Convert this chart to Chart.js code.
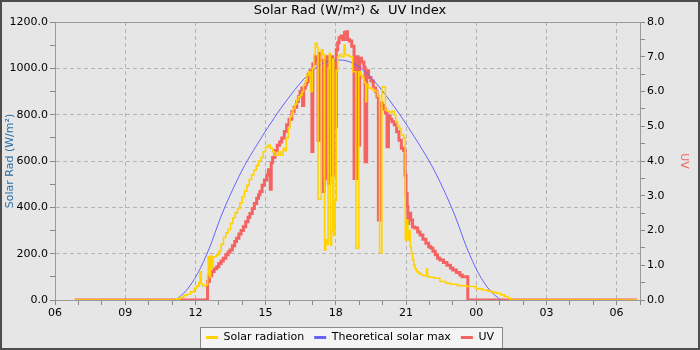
<!DOCTYPE html>
<html>
<head>
<meta charset="utf-8">
<script src="https://cdn.jsdelivr.net/npm/chart.js@4.4.1/dist/chart.umd.min.js"></script>
<style>
  html, body { margin: 0; padding: 0; background: #e6e6e6; }
  #wrap { width: 700px; height: 350px; }
</style>
</head>
<body>
<div id="wrap"><canvas id="solarChart" width="700" height="350"></canvas></div>
<script>
// Hours of the day (values above 24 are the next morning)
const solarTimes = [6.85, 11.05, 11.2, 11.35, 11.5, 11.65, 11.8, 11.95, 12.05, 12.15, 12.2, 12.25, 12.3, 12.45, 12.52, 12.55, 12.58, 12.62, 12.65, 12.7, 12.75, 12.9,
  13.0, 13.1, 13.2, 13.3, 13.4, 13.5, 13.6, 13.7, 13.8, 13.9, 14.0, 14.1, 14.2, 14.3, 14.4, 14.5, 14.6, 14.7, 14.8, 14.9,
  15.0, 15.1, 15.2, 15.3, 15.4, 15.55, 15.65, 15.75, 15.8, 15.88, 15.97, 16.04, 16.12, 16.18, 16.26, 16.33, 16.4, 16.5, 16.56, 16.62, 16.7, 16.76, 16.85, 16.92,
  17.0, 17.06, 17.12, 17.2, 17.24, 17.38, 17.45, 17.52, 17.57, 17.62, 17.67, 17.72, 17.77, 17.82, 17.87, 17.91, 17.97,
  18.02, 18.08, 18.15, 18.25, 18.35, 18.4, 18.5, 18.6, 18.72, 18.86, 18.98, 19.06, 19.12, 19.2, 19.25, 19.28, 19.32, 19.4, 19.5, 19.6, 19.7, 19.78, 19.87, 19.97,
  20.05, 20.12, 20.2, 20.3, 20.4, 20.5, 20.56, 20.64, 20.72, 20.8, 20.9, 20.97, 21.02, 21.08, 21.13, 21.18, 21.23, 21.28, 21.33, 21.38, 21.45, 21.55, 21.65, 21.75, 21.88, 21.92,
  22.0, 22.2, 22.45, 22.7, 22.9, 23.2, 23.6, 24.0, 24.25, 24.5, 24.7, 24.87, 25.05, 25.2, 25.35, 25.45, 30.87];
const solarValues = [0, 0, 5, 12, 20, 25, 35, 50, 60, 75, 122, 70, 62, 66, 110, 187, 120, 100, 190, 140, 187, 195,
  210, 240, 270, 290, 305, 330, 355, 376, 395, 420, 446, 470, 495, 520, 540, 560, 580, 600, 615, 640,
  660, 669, 655, 640, 625, 640, 625, 655, 645, 700, 742, 791, 810, 827, 845, 863, 877, 885, 899, 928, 945, 971, 985, 900,
  1000, 1060, 1108, 1090, 435, 1080, 1060, 216, 260, 240, 1000, 1065, 237, 300, 1040, 280, 430,
  990, 1050, 1060, 1050, 1100, 1060, 1055, 1050, 985, 224, 985, 970, 960, 942, 936, 856, 930, 915, 913, 905, 900, 880, 204, 920,
  920, 820, 815, 810, 815, 800, 770, 750, 740, 712, 700, 259, 345, 259, 300, 230, 200, 173, 151, 135, 122, 115, 108, 105, 134, 101,
  98, 94, 80, 72, 68, 62, 58, 48, 43, 38, 33, 29, 22, 15, 8, 0, 0];

const maxTimes = [11.15, 11.6, 12.1, 12.6, 13.1, 13.6, 14.1, 14.6, 15.1, 15.6, 16.1, 16.6, 17.1, 17.6, 18.1,
  18.6, 19.1, 19.6, 20.1, 20.6, 21.1, 21.6, 22.1, 22.6, 23.1, 23.6, 24.1, 24.6, 25.05];
const maxValues = [0, 40, 115, 225, 362, 478, 580, 665, 745, 820, 888, 950, 998, 1028, 1036,
  1028, 998, 950, 888, 820, 745, 665, 580, 478, 362, 225, 115, 40, 0];

const uvTimes = [6.85, 12.52, 12.6, 12.7, 12.8, 12.91, 13.0, 13.1, 13.19, 13.3, 13.4, 13.48, 13.58, 13.68, 13.76, 13.86, 13.95,
  14.05, 14.15, 14.25, 14.33, 14.43, 14.52, 14.62, 14.7, 14.76, 14.85, 14.95, 15.05, 15.12, 15.2, 15.24, 15.3, 15.4, 15.5, 15.6, 15.69, 15.8, 15.9,
  16.0, 16.12, 16.22, 16.33, 16.4, 16.47, 16.55, 16.58, 16.63, 16.7, 16.75, 16.82, 16.9, 16.98,
  17.02, 17.1, 17.18, 17.24, 17.28, 17.36, 17.42, 17.5, 17.56, 17.62, 17.68, 17.74, 17.8, 17.86, 17.92, 17.98,
  18.02, 18.08, 18.14, 18.22, 18.3, 18.37, 18.44, 18.5, 18.58, 18.68, 18.78, 18.88, 18.95,
  19.02, 19.1, 19.2, 19.25, 19.32, 19.4, 19.5, 19.6, 19.7, 19.76, 19.82, 19.9, 19.98,
  20.05, 20.12, 20.19, 20.25, 20.32, 20.4, 20.5, 20.6, 20.7, 20.8, 20.9, 20.96,
  21.0, 21.05, 21.08, 21.12, 21.2, 21.28, 21.38, 21.5, 21.6, 21.72, 21.85, 21.97,
  22.05, 22.15, 22.25, 22.35, 22.45, 22.6, 22.75, 22.9, 23.0, 23.15, 23.3, 23.4, 23.64, 30.87];
const uvValues = [0, 0.53, 0.7, 0.82, 0.9, 0.96, 1.05, 1.12, 1.2, 1.3, 1.38, 1.44, 1.56, 1.68, 1.78, 1.9, 2.0,
  2.11, 2.25, 2.38, 2.49, 2.63, 2.78, 2.93, 3.03, 3.12, 3.3, 3.45, 3.6, 3.75, 3.19, 3.95, 4.1, 4.3, 4.45, 4.55, 4.66, 4.85, 5.04,
  5.2, 5.42, 5.55, 5.71, 5.85, 6.0, 6.1, 5.6, 6.1, 6.2, 6.28, 6.5, 6.6, 4.27,
  6.8, 7.0, 6.9, 4.6, 7.1, 6.9, 3.12, 3.5, 6.9, 7.0, 3.36, 6.8, 7.0, 3.6, 6.9, 5.0,
  7.2, 7.4, 7.55, 7.6, 7.5, 7.7, 7.72, 7.5, 7.45, 7.3, 3.5, 7.0, 4.46,
  6.96, 6.85, 6.7, 3.98, 6.6, 6.4, 6.3, 6.1, 6.0, 5.85, 2.3, 5.67, 5.6,
  5.5, 5.38, 4.41, 5.3, 5.2, 5.13, 5.04, 4.84, 4.6, 4.37, 4.3, 3.6,
  3.07, 2.68, 2.2, 2.5, 2.3, 2.1, 2.07, 1.96, 1.87, 1.75, 1.63, 1.53,
  1.5, 1.4, 1.3, 1.2, 1.15, 1.08, 1.0, 0.92, 0.86, 0.79, 0.72, 0.67, 0, 0];

const seriesNames = ['Solar radiation', 'Theoretical solar max', 'UV'];
const seriesColors = ['#ffd200', '#6464ff', '#f46262'];

const toPoints = (xs, ys) => xs.map((x, i) => ({ x: x, y: ys[i] }));
const pad2 = (n) => (n < 10 ? '0' : '') + n;

// background, outer frame, legend box and top border of the plot
const framePlugin = {
  id: 'frame',
  beforeDraw(chart) {
    const ctx = chart.ctx;
    ctx.save();
    ctx.fillStyle = '#e6e6e6';
    ctx.fillRect(0, 0, chart.width, chart.height);
    const boxes = chart.legend && chart.legend.legendHitBoxes;
    if (boxes && boxes.length) {
      const l = Math.min(...boxes.map(b => b.left)) - 6;
      const r = Math.max(...boxes.map(b => b.left + b.width)) + 8;
      const t = boxes[0].top - 5;
      const h = boxes[0].height + 10;
      ctx.fillStyle = '#f4f4f4';
      ctx.fillRect(l, t, r - l, h);
      ctx.strokeStyle = '#888';
      ctx.lineWidth = 1;
      ctx.strokeRect(Math.round(l) + 0.5, Math.round(t) + 0.5, Math.round(r - l), Math.round(h));
    }
    ctx.restore();
  },
  afterDraw(chart) {
    const ctx = chart.ctx;
    const a = chart.chartArea;
    ctx.save();
    ctx.strokeStyle = '#999';
    ctx.lineWidth = 1;
    ctx.beginPath();
    ctx.moveTo(a.left, Math.round(a.top) + 0.5);
    ctx.lineTo(a.right, Math.round(a.top) + 0.5);
    ctx.stroke();
    ctx.strokeStyle = '#4d4d4d';
    ctx.lineWidth = 2;
    ctx.strokeRect(1, 1, chart.width - 2, chart.height - 2);
    ctx.restore();
  }
};

Chart.defaults.font.family = '"DejaVu Sans", sans-serif';
Chart.defaults.font.size = 11;
Chart.defaults.color = '#000';

new Chart(document.getElementById('solarChart'), {
  type: 'line',
  data: {
    datasets: [
      {
        label: seriesNames[0],
        data: toPoints(solarTimes, solarValues),
        yAxisID: 'y',
        borderColor: seriesColors[0],
        backgroundColor: seriesColors[0],
        borderWidth: 1.6,
        stepped: true,
        pointRadius: 0
      },
      {
        label: seriesNames[1],
        data: toPoints(maxTimes, maxValues),
        yAxisID: 'y',
        borderColor: seriesColors[1],
        backgroundColor: seriesColors[1],
        borderWidth: 1,
        cubicInterpolationMode: 'monotone',
        pointRadius: 0
      },
      {
        label: seriesNames[2],
        data: toPoints(uvTimes, uvValues),
        yAxisID: 'y1',
        borderColor: seriesColors[2],
        backgroundColor: seriesColors[2],
        borderWidth: 3,
        stepped: true,
        pointRadius: 0
      }
    ]
  },
  options: {
    responsive: false,
    animation: false,
    devicePixelRatio: 1,
    layout: { padding: { top: 2, left: 0, right: 0, bottom: 0 } },
    scales: {
      x: {
        type: 'linear',
        min: 6,
        max: 31,
        afterFit: (scale) => { scale.height = 22; },
        ticks: {
          stepSize: 1,
          autoSkip: false,
          maxRotation: 0,
          padding: 2,
          callback: (v) => (v % 3 === 0 ? pad2(v % 24) : '')
        },
        grid: {
          color: (c) => (c.tick && c.tick.value % 3 === 0 ? '#b4b4b4' : 'rgba(0,0,0,0)'),
          tickColor: '#888',
          tickLength: 5
        },
        border: { color: '#999', dash: [4, 3] }
      },
      y: {
        position: 'left',
        min: 0,
        max: 1200,
        afterFit: (scale) => { scale.width = 55; },
        title: { display: true, text: 'Solar Rad (W/m²)', color: '#2a6fa5', padding: { top: 4, bottom: 0 } },
        ticks: {
          stepSize: 100,
          autoSkip: false,
          padding: 2,
          callback: (v) => (v % 200 === 0 ? v.toFixed(1) : '')
        },
        grid: {
          color: (c) => (c.tick && c.tick.value % 200 === 0 ? '#b4b4b4' : 'rgba(0,0,0,0)'),
          tickColor: '#888',
          tickLength: 5
        },
        border: { color: '#999', dash: [4, 3] }
      },
      y1: {
        position: 'right',
        min: 0,
        max: 8,
        afterFit: (scale) => { scale.width = 60; },
        title: { display: true, text: 'UV', color: '#f46262', padding: { top: 10, bottom: 0 } },
        ticks: {
          stepSize: 0.5,
          autoSkip: false,
          padding: 2,
          callback: (v) => (Number.isInteger(v) ? v.toFixed(1) : '')
        },
        grid: {
          drawOnChartArea: false,
          tickColor: '#888',
          tickLength: 5
        },
        border: { color: '#999' }
      }
    },
    plugins: {
      title: {
        display: true,
        text: 'Solar Rad (W/m²) &  UV Index',
        font: { size: 13, weight: 'normal' },
        color: '#000',
        padding: { top: 1, bottom: 3.4 }
      },
      legend: {
        position: 'bottom',
        maxHeight: 28,
        labels: {
          boxWidth: 12,
          boxHeight: 3,
          padding: 10,
          color: '#000',
          generateLabels: (chart) => chart.data.datasets.map((ds, i) => ({
            text: ds.label,
            fillStyle: ds.borderColor,
            strokeStyle: ds.borderColor,
            lineWidth: 0,
            hidden: false,
            datasetIndex: i,
            fontColor: '#000'
          }))
        }
      },
      tooltip: { enabled: false }
    }
  },
  plugins: [framePlugin]
});
</script>
</body>
</html>
